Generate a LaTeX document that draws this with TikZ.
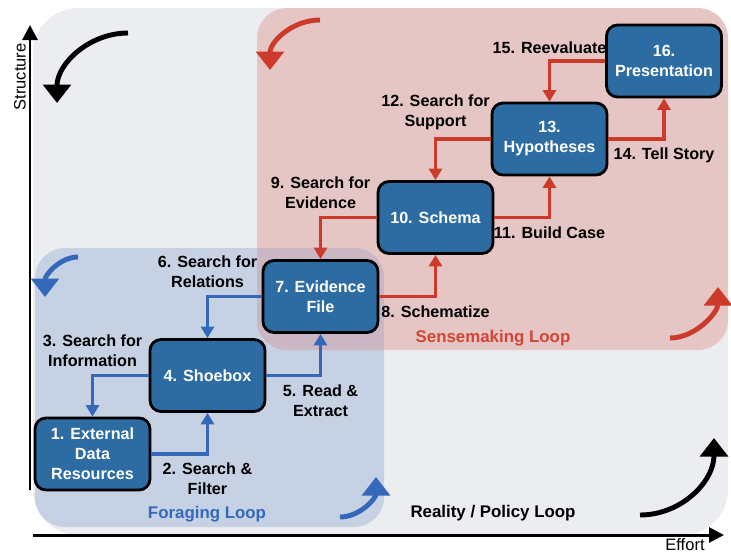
\documentclass[tikz,border=0pt]{standalone}
\usepackage{fontspec}
\setmainfont{Liberation Sans}
\usetikzlibrary{arrows.meta}
\definecolor{PanelGray}{RGB}{236,237,240}
\definecolor{ForageFill}{RGB}{198,209,228}
\definecolor{SenseFill}{RGB}{229,198,196}
\definecolor{OverlapFill}{RGB}{203,182,196}
\definecolor{BoxBlue}{RGB}{45,108,162}
\definecolor{FlowBlue}{RGB}{52,104,186}
\definecolor{FlowRed}{RGB}{204,58,42}
\definecolor{SenseRed}{RGB}{210,70,55}

\begin{document}
\begin{tikzpicture}[x=0.02cm,y=-0.02cm,>={Triangle[width=0.26cm,length=0.23cm]},
    box/.style={draw=black,line width=1.6pt,rounded corners=0.22cm,fill=BoxBlue,text=white,
      font=\bfseries\fontsize{9.2}{11.4}\selectfont,align=center,
      minimum width=2.3cm,minimum height=1.44cm,inner sep=0pt},
    lbl/.style={font=\bfseries\fontsize{9.2}{11.4}\selectfont,align=center,inner sep=1pt},
    looplbl/.style={font=\bfseries\fontsize{9.6}{11.4}\selectfont},
    flow/.style={->,line width=2pt},
    turn/.style={line width=2.8pt,-{Triangle[width=0.55cm,length=0.37cm]}}]
      \useasboundingbox (0,0) rectangle (731,552);
      \fill[PanelGray,rounded corners=0.9cm] (33,8) rectangle (728,535);
      \fill[SenseFill,rounded corners=0.6cm] (257,8) rectangle (728,350);
      \fill[ForageFill,rounded corners=0.6cm] (35,248) rectangle (384,527);
      \begin{scope}
        \clip[rounded corners=0.6cm] (257,8) rectangle (728,350);
        \fill[OverlapFill,rounded corners=0.6cm] (35,248) rectangle (384,527);
      \end{scope}
      \draw[line width=1.7pt,-{Triangle[width=0.3cm,length=0.3cm]}] (30,490)--(30,25);
      \draw[line width=1.7pt,-{Triangle[width=0.3cm,length=0.3cm]}] (33,535)--(724,535);
      \node[rotate=90,font=\fontsize{9.4}{11}\selectfont] (ylbl) at (20,77) {Structure};
      \node[font=\fontsize{9.4}{11}\selectfont] (xlbl) at (685,545) {Effort};

      \node[box] (b1) at (92.5,454) {1. External\\Data\\Resources};
      \node[box] (b4) at (207.5,375.5) {4. Shoebox};
      \node[box] (b7) at (320.5,296.5) {7. Evidence\\File};
      \node[box] (b10) at (435.5,217.5) {10. Schema};
      \node[box] (b13) at (549.5,139) {13.\\Hypotheses};
      \node[box] (b16) at (664,61) {16.\\Presentation};

      \draw[flow,FlowBlue] (b1) -| node[lbl,text=black,below=3pt]{2. Search \&\\Filter} (b4);
      \draw[flow,FlowBlue] (b4) -| node[lbl,text=black,above=3pt]{3. Search for\\Information} (b1);
      \draw[flow,FlowBlue] (b4) -| node[lbl,text=black,below=3pt]{5. Read \&\\Extract} (b7);
      \draw[flow,FlowBlue] (b7) -| node[lbl,text=black,above=3pt]{6. Search for\\Relations} (b4);
      \draw[flow,FlowRed] (b7) -| node[lbl,text=black,below=3pt]{8. Schematize} (b10);
      \draw[flow,FlowRed] (b10) -| node[lbl,text=black,above=3pt]{9. Search for\\Evidence} (b7);
      \draw[flow,FlowRed] (b10) -| node[lbl,text=black,below=3pt]{11. Build Case} (b13);
      \draw[flow,FlowRed] (b13) -| node[lbl,text=black,above=3pt]{12. Search for\\Support} (b10);
      \draw[flow,FlowRed] (b13) -| node[lbl,text=black,below=3pt]{14. Tell Story} (b16);
      \draw[flow,FlowRed] (b16) -| node[lbl,text=black,above=2pt]{15. Reevaluate} (b13);

      \draw[turn] (128,33) .. controls (89,33) and (57,64) .. (57,103);
      \draw[turn,FlowRed] (320,20) .. controls (292,20) and (270,42) .. (270,70);
      \draw[turn,FlowBlue] (78,257) .. controls (60,257) and (45,275) .. (45,297);
      \draw[turn,FlowBlue] (340,517) .. controls (360,517) and (376,498) .. (376,477);
      \draw[turn,FlowRed] (670,338) .. controls (696,338) and (718,312) .. (718,287);
      \draw[turn] (640,515) .. controls (681,515) and (714,482) .. (714,438);

      \node[looplbl,text=FlowBlue] (forage) at (207,514) {Foraging Loop};
      \node[looplbl,text=SenseRed] (sense) at (493,338) {Sensemaking Loop};
      \node[looplbl] (reality) at (493,513) {Reality / Policy Loop};
    \end{tikzpicture}
\end{document}
